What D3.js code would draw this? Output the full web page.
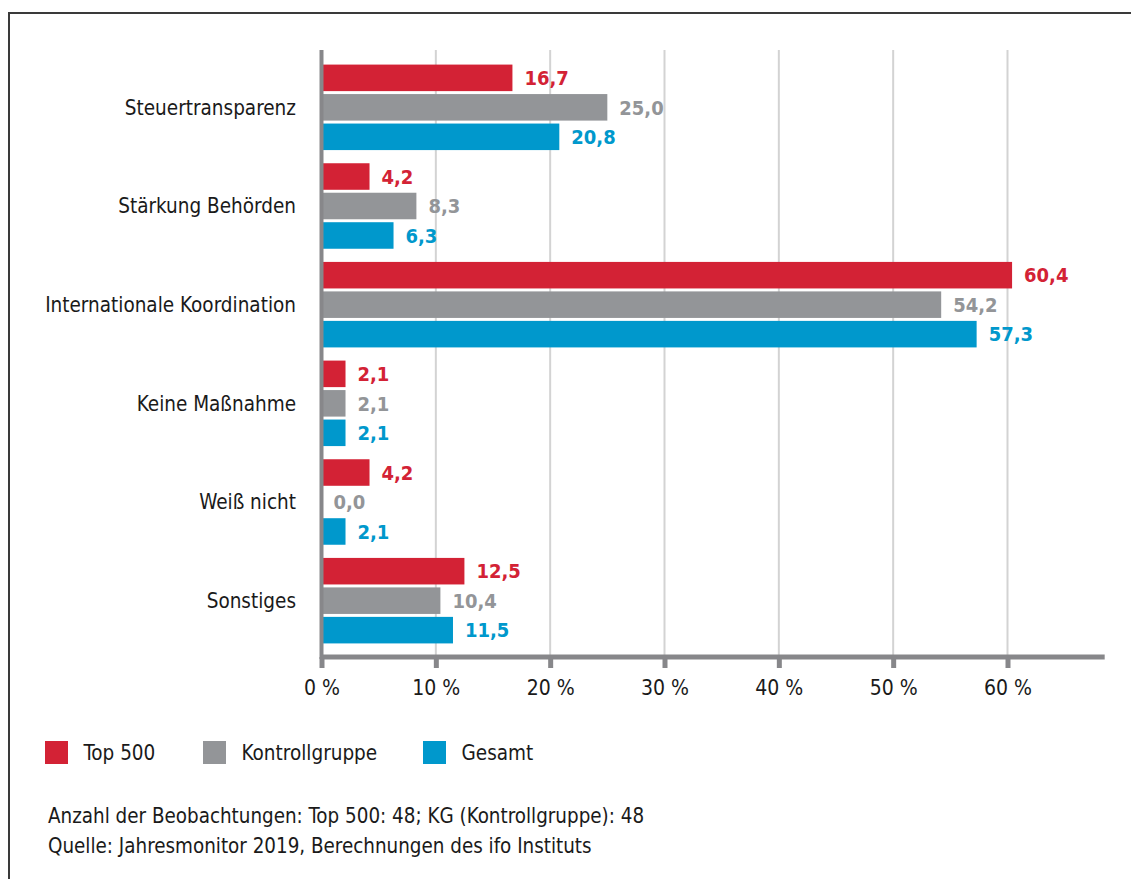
<!DOCTYPE html>
<html>
<head>
<meta charset="utf-8">
<script src="https://cdn.jsdelivr.net/npm/d3@7"></script>
<style>
  body { margin: 0; background: #fff; }
  svg text { font-family: "DejaVu Sans Condensed", "DejaVu Sans", sans-serif; }
</style>
</head>
<body>
<svg width="1131" height="879"></svg>
<script>
var categories = ["Steuertransparenz", "Stärkung Behörden", "Internationale Koordination",
                  "Keine Maßnahme", "Weiß nicht", "Sonstiges"];
var seriesNames = ["Top 500", "Kontrollgruppe", "Gesamt"];
var seriesColors = ["#d32235", "#939598", "#0098cc"];
var top500 = [16.7, 4.2, 60.4, 2.1, 4.2, 12.5];
var kontrollgruppe = [25.0, 8.3, 54.2, 2.1, 0.0, 10.4];
var gesamt = [20.8, 6.3, 57.3, 2.1, 2.1, 11.5];
var xTicks = [0, 10, 20, 30, 40, 50, 60];
var notes = ["Anzahl der Beobachtungen: Top 500: 48; KG (Kontrollgruppe): 48",
             "Quelle: Jahresmonitor 2019, Berechnungen des ifo Instituts"];

var series = [top500, kontrollgruppe, gesamt];

var svg = d3.select("svg");

// frame
svg.append("path")
    .attr("d", "M9,879V13H1131")
    .attr("fill", "none")
    .attr("stroke", "#3a3a3a")
    .attr("stroke-width", 2);

var x = d3.scaleLinear().domain([0, 60]).range([321.5, 1007.5]);
var xMax = 68.5;

var y = d3.scaleBand().domain(categories).range([58, 650]);
var ySub = d3.scaleBand().domain(seriesNames)
    .range([0, 85.5]).paddingInner(0.1);
var subOffset = (y.bandwidth() - 85.5) / 2;

// gridlines
svg.append("g").selectAll("line")
    .data(xTicks.slice(1))
    .join("line")
    .attr("x1", d => x(d)).attr("x2", d => x(d))
    .attr("y1", 50).attr("y2", 655)
    .attr("stroke", "#d3d3d3")
    .attr("stroke-width", 2);

// bars
var groups = svg.append("g").selectAll("g")
    .data(categories)
    .join("g")
    .attr("transform", c => "translate(0," + (y(c) + subOffset) + ")");

groups.selectAll("rect")
    .data((c, i) => series.map((s, j) => ({ v: s[i], j: j })))
    .join("rect")
    .attr("x", x(0))
    .attr("y", d => ySub(seriesNames[d.j]))
    .attr("width", d => x(d.v) - x(0))
    .attr("height", ySub.bandwidth())
    .attr("fill", d => seriesColors[d.j]);

groups.selectAll("text")
    .data((c, i) => series.map((s, j) => ({ v: s[i], j: j })))
    .join("text")
    .attr("x", d => x(d.v) + 12)
    .attr("y", d => ySub(seriesNames[d.j]) + ySub.bandwidth() / 2)
    .attr("dy", "0.36em")
    .attr("fill", d => seriesColors[d.j])
    .style("font-weight", "bold")
    .style("font-size", "20px")
    .text(d => d.v.toFixed(1).replace(".", ","));

// category labels
svg.append("g").selectAll("text")
    .data(categories)
    .join("text")
    .attr("x", 296)
    .attr("y", c => y(c) + y.bandwidth() / 2)
    .attr("dy", "0.36em")
    .attr("text-anchor", "end")
    .attr("fill", "#1a1a1a")
    .style("font-size", "20.5px")
    .text(c => c);

// axes
var xAxis = svg.append("g")
    .attr("transform", "translate(0,657)")
    .call(d3.axisBottom(x).tickValues(xTicks).tickSize(11).tickPadding(12)
        .tickFormat(d => d + " %"));
xAxis.select(".domain")
    .attr("d", "M" + x(0) + ",0H" + x(xMax))
    .attr("stroke", "#87878a")
    .attr("stroke-width", 5);
xAxis.selectAll(".tick line")
    .attr("stroke", "#87878a")
    .attr("stroke-width", 5);
xAxis.selectAll(".tick text")
    .attr("fill", "#1a1a1a")
    .style("font-size", "21px")
    .style("font-family", null);

svg.append("line")
    .attr("x1", x(0)).attr("x2", x(0))
    .attr("y1", 50).attr("y2", 659)
    .attr("stroke", "#87878a")
    .attr("stroke-width", 4);

// legend
var legendX = [45, 203, 423];
var legend = svg.append("g").selectAll("g")
    .data(seriesNames)
    .join("g")
    .attr("transform", (d, i) => "translate(" + legendX[i] + ",741)");
legend.append("rect")
    .attr("width", 23).attr("height", 23)
    .attr("fill", (d, i) => seriesColors[i]);
legend.append("text")
    .attr("x", 38.5).attr("y", 11.5)
    .attr("dy", "0.36em")
    .attr("fill", "#1a1a1a")
    .style("font-size", "20.5px")
    .text(d => d);

// notes
svg.append("g").selectAll("text")
    .data(notes)
    .join("text")
    .attr("x", 48)
    .attr("y", (d, i) => 816 + i * 30)
    .attr("dy", "0.36em")
    .attr("fill", "#1a1a1a")
    .style("font-size", "20.4px")
    .text(d => d);
</script>
</body>
</html>
